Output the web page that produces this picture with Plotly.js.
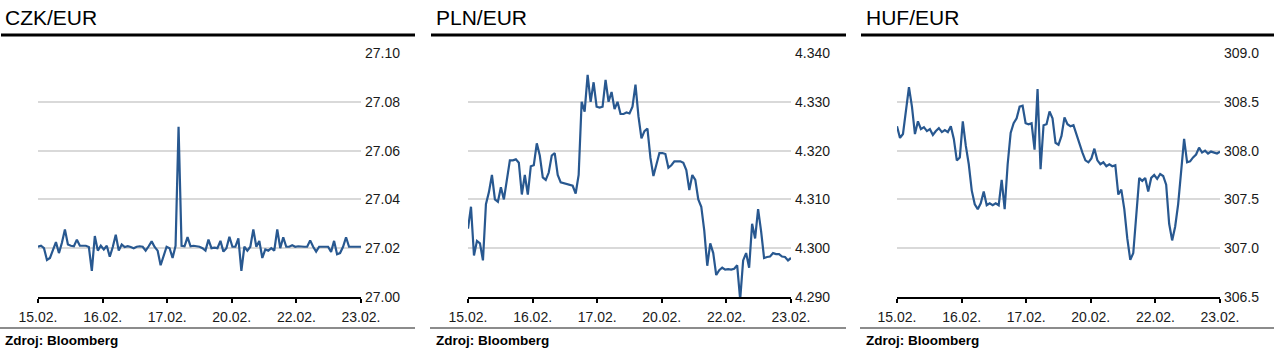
<!DOCTYPE html>
<html>
<head>
<meta charset="utf-8">
<script src="https://cdn.plot.ly/plotly-3.0.1.min.js"></script>
<style>
html,body{margin:0;padding:0;background:#fff;}
#chart{width:1280px;height:354px;}
</style>
</head>
<body>
<div id="chart"></div>
<script>
const titles = ['CZK/EUR', 'PLN/EUR', 'HUF/EUR'];
const sourceText = 'Zdroj: Bloomberg';
const dateLabels = ['15.02.', '16.02.', '17.02.', '20.02.', '22.02.', '23.02.'];

const czk = [27.0206,27.0210,27.0200,27.0152,27.0160,27.0190,27.0225,27.0180,27.0222,27.0277,
27.0215,27.0210,27.0208,27.0235,27.0210,27.0210,27.0210,27.0205,27.0107,27.0250,
27.0190,27.0210,27.0195,27.0210,27.0165,27.0205,27.0255,27.0190,27.0215,27.0205,
27.0208,27.0205,27.0200,27.0206,27.0208,27.0206,27.0190,27.0208,27.0228,27.0205,
27.0190,27.0130,27.0165,27.0206,27.0200,27.0160,27.0210,27.0698,27.0210,27.0208,
27.0245,27.0208,27.0210,27.0208,
27.0206,27.0200,27.0190,27.0235,27.0200,27.0202,27.0200,27.0230,27.0186,27.0200,
27.0247,27.0206,27.0206,27.0240,27.0107,27.0206,27.0190,27.0206,27.0277,27.0206,
27.0230,27.0160,27.0195,27.0190,27.0200,27.0190,27.0277,27.0200,27.0245,27.0206,
27.0206,27.0212,27.0206,27.0208,27.0206,27.0206,27.0206,27.0232,27.0206,27.0186,
27.0206,27.0206,27.0205,27.0206,27.0185,27.0230,27.0175,27.0180,27.0206,27.0245,
27.0206,27.0206,27.0206,27.0206,27.0206];

const pln = [4.3040,4.3085,4.2985,4.3015,4.3010,4.2975,4.3090,4.3115,4.3150,4.3100,
4.3095,4.3125,4.3100,4.3140,4.3180,4.3180,4.3182,4.3175,4.3110,4.3150,
4.3110,4.3168,4.3170,4.3215,4.3190,4.3145,4.3140,4.3155,4.3190,4.3195,
4.3150,4.3135,4.3133,4.3132,4.3130,4.3128,4.3112,4.3150,4.3300,4.3280,
4.3355,4.3300,4.3340,4.3290,4.3288,4.3290,4.3345,4.3300,4.3320,4.3285,
4.3300,4.3275,4.3275,4.3278,
4.3276,4.3290,4.3335,4.3270,4.3225,4.3240,4.3245,4.3185,4.3148,4.3170,
4.3195,4.3195,4.3193,4.3165,4.3170,4.3178,4.3178,4.3178,4.3175,4.3160,
4.3119,4.3150,4.3140,4.3100,4.3085,4.3036,4.2964,4.3010,4.2990,4.2945,
4.2955,4.2960,4.2956,4.2957,4.2956,4.2958,4.2965,4.2895,4.2975,4.2990,
4.2960,4.3050,4.3020,4.3080,4.3035,4.2980,4.2982,4.2983,4.2990,4.2988,
4.2988,4.2983,4.2982,4.2975,4.2980];

const huf = [308.25,308.13,308.17,308.42,308.65,308.45,308.17,308.30,308.22,308.24,
308.20,308.22,308.16,308.20,308.23,308.19,308.21,308.19,308.25,308.12,
307.90,307.93,308.30,308.05,307.86,307.59,307.45,307.40,307.46,307.58,
307.44,307.46,307.44,307.46,307.44,307.70,307.40,307.86,308.18,308.28,
308.33,308.45,308.46,308.28,308.27,308.28,308.01,308.63,307.81,308.26,
308.27,308.40,308.33,308.08,308.06,
308.15,308.34,308.27,308.25,308.26,308.16,308.07,307.98,307.90,307.88,
307.92,308.02,307.90,307.86,307.88,307.84,307.86,307.84,307.85,307.55,
307.60,307.40,307.10,306.88,306.95,307.38,307.72,307.69,307.72,307.58,
307.72,307.75,307.71,307.76,307.74,307.65,307.25,307.08,307.22,307.45,
307.80,308.12,307.88,307.89,307.93,307.96,308.03,307.98,308.00,307.97,
307.99,307.98,307.97,307.99];

const yRanges = [[27.00, 27.10], [4.290, 4.340], [306.5, 309.0]];
const yDticks = [0.02, 0.01, 0.5];
const yFormats = ['.2f', '.3f', '.1f'];
const series = [czk, pln, huf];

const W = 1280, H = 354;
const px = x => x / W;
const py = y => 1 - y / H;
const FONT = 'Liberation Sans, Arial, sans-serif';
const LINE = '#285890';

// panel geometry (pixels)
const plotX = [[38, 361], [468, 791], [897, 1220]];
const panelX = [[1, 415], [431, 846], [861, 1274]];
const textX = [3, 434, 864];

const data = [];
const layout = {
  width: W, height: H,
  margin: {l: 0, r: 0, t: 0, b: 0, pad: 0},
  paper_bgcolor: '#fff', plot_bgcolor: '#fff',
  showlegend: false,
  font: {family: FONT, color: '#111', size: 14},
  shapes: [], annotations: []
};

series.forEach((vals, i) => {
  const n = vals.length;
  const xs = vals.map((_, k) => k);
  const sfx = i === 0 ? '' : String(i + 1);
  data.push({
    type: 'scatter', mode: 'lines',
    x: xs, y: vals,
    xaxis: 'x' + sfx, yaxis: 'y' + sfx,
    line: {color: LINE, width: 2.2},
    hoverinfo: 'skip'
  });
  layout['xaxis' + sfx] = {
    domain: [px(plotX[i][0]), px(plotX[i][1])],
    anchor: 'y' + sfx,
    range: [0, n - 1],
    tickmode: 'array',
    tickvals: dateLabels.map((_, k) => k * (n - 1) / (dateLabels.length - 1)),
    ticktext: dateLabels,
    ticks: 'outside', ticklen: 4, tickwidth: 2, tickcolor: '#000',
    ticklabelstandoff: 2,
    showline: true, linecolor: '#000', linewidth: 2,
    showgrid: false, zeroline: false, automargin: false,
    tickfont: {family: FONT, size: 14, color: '#1a1a1a'},
    fixedrange: true
  };
  layout['yaxis' + sfx] = {
    domain: [py(297), py(53)],
    anchor: 'x' + sfx,
    side: 'right',
    range: yRanges[i],
    dtick: yDticks[i], tick0: yRanges[i][0],
    tickformat: yFormats[i],
    showgrid: true, gridcolor: '#d9d9d9', gridwidth: 2,
    ticks: '', showline: false, zeroline: false, automargin: false,
    ticklabelstandoff: 3,
    tickfont: {family: FONT, size: 14, color: '#1a1a1a'},
    fixedrange: true
  };
  // title
  layout.annotations.push({
    xref: 'paper', yref: 'paper', x: px(textX[i]), y: py(18),
    xanchor: 'left', yanchor: 'middle', showarrow: false,
    text: titles[i], font: {family: FONT, size: 21, color: '#000'}
  });
  // source
  layout.annotations.push({
    xref: 'paper', yref: 'paper', x: px(textX[i]), y: py(340),
    xanchor: 'left', yanchor: 'middle', showarrow: false,
    text: '<b>' + sourceText + '</b>', font: {family: FONT, size: 13.5, color: '#000'}
  });
  // black header rule
  layout.shapes.push({
    type: 'line', xref: 'paper', yref: 'paper',
    x0: px(panelX[i][0]), x1: px(panelX[i][1]), y0: py(35), y1: py(35),
    line: {color: '#000', width: 3}
  });
  // gray footer rule
  layout.shapes.push({
    type: 'line', xref: 'paper', yref: 'paper',
    x0: px(panelX[i][0] - 1), x1: px(panelX[i][1]), y0: py(328), y1: py(328),
    line: {color: '#8c8c8c', width: 2}
  });
});

Plotly.newPlot('chart', data, layout, {staticPlot: true, displayModeBar: false});
</script>
</body>
</html>
